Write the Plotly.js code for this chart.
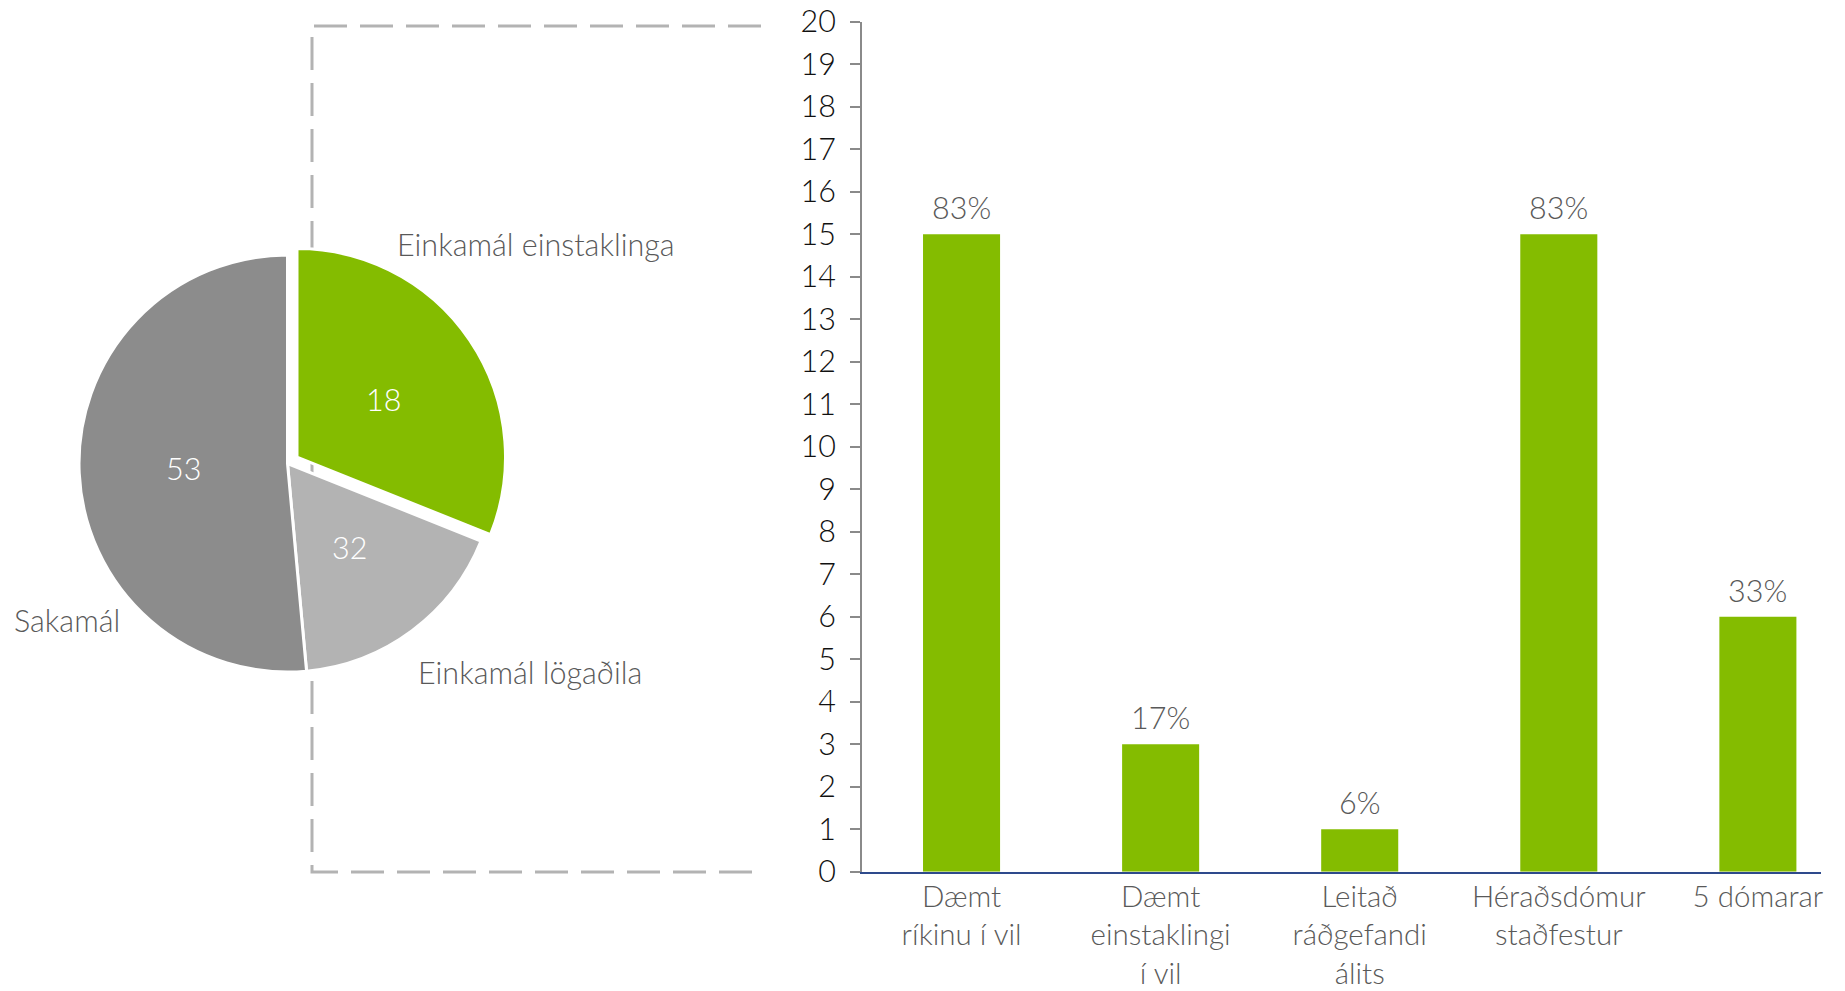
<!DOCTYPE html>
<html>
<head>
<meta charset="utf-8">
<script src="https://cdn.plot.ly/plotly-3.0.1.min.js"></script>
<style>html,body{margin:0;padding:0;background:#fff;}#chart{width:1845px;height:991px;}</style>
</head>
<body>
<div id="chart"></div>
<script>
// ---- Pie data ----
const pieNames = ["Einkamál einstaklinga", "Einkamál lögaðila", "Sakamál"];
const pieSliceValues = [32, 18, 53];          // slice sizes as drawn
const pieSliceLabels = ["18", "32", "53"];    // numbers printed on the slices
const pieColors = ["#84bc00", "#b3b3b3", "#8c8c8c"];

// ---- Bar data ----
const barCategories = ["Dæmt<br>ríkinu í vil", "Dæmt<br>einstaklingi<br>í vil", "Leitað<br>ráðgefandi<br>álits", "Héraðsdómur<br>staðfestur", "5 dómarar"];
const barValues = [15, 3, 1, 15, 6];
const barLabels = ["83%", "17%", "6%", "83%", "33%"];

const W = 1845, H = 991;
const px = x => x / W;
const py = y => 1 - y / H;
const FONT = "Lato, 'Open Sans', sans-serif";
const WEIGHT = 300;
const FS = 30.5;
const GREY_TXT = "#595959";

// pie geometry (layout)
const pieCx = 287.5, pieCy = 463.5, pieR = 208.5, pull = 0.055;
const half = pieR * (1 + pull);
const pulls = [pull, 0, 0];

const pie = {
  type: "pie",
  values: pieSliceValues,
  labels: pieNames,
  textinfo: "none",
  marker: {colors: pieColors, line: {color: "#ffffff", width: 3}},
  pull: pulls,
  sort: false,
  direction: "clockwise",
  rotation: 0,
  hoverinfo: "none",
  domain: {x: [px(pieCx - half), px(pieCx + half)], y: [py(pieCy + half), py(pieCy - half)]}
};

// slice value labels placed half-way out along each slice bisector
const total = pieSliceValues.reduce((a, b) => a + b, 0);
const sliceAnn = [];
let acc = 0;
pieSliceValues.forEach((v, i) => {
  const mid = (acc + v / 2) / total * 2 * Math.PI;
  acc += v;
  const rr = pieR * (0.5 + pulls[i]);
  const x = pieCx + rr * Math.sin(mid);
  const y = pieCy - rr * Math.cos(mid);
  sliceAnn.push({text: pieSliceLabels[i], xref: "paper", yref: "paper", x: px(x), y: py(y),
    xanchor: "center", yanchor: "middle", showarrow: false,
    font: {family: FONT, size: FS, color: "#ffffff", weight: WEIGHT}});
});

const bar = {
  type: "bar",
  x: barCategories,
  y: barValues,
  marker: {color: "#84bc00"},
  hoverinfo: "none"
};

const barAnn = barCategories.map((c, i) => ({
  text: barLabels[i], x: c, y: barValues[i], xref: "x", yref: "y",
  xanchor: "center", yanchor: "middle", yshift: 27, showarrow: false,
  font: {family: FONT, size: FS, color: GREY_TXT, weight: WEIGHT}
}));

const labelFont = {family: FONT, size: FS, color: GREY_TXT, weight: WEIGHT};

const layout = {
  width: W, height: H,
  margin: {l: 0, r: 0, t: 0, b: 0},
  paper_bgcolor: "#ffffff",
  plot_bgcolor: "rgba(0,0,0,0)",
  showlegend: false,
  bargap: 0.613,
  font: {family: FONT, color: GREY_TXT, weight: WEIGHT},
  xaxis: {
    domain: [px(862), px(1821)],
    range: [-0.5, 4.317],
    showgrid: false, zeroline: false,
    showline: true, linecolor: "#2e4a8c", linewidth: 2,
    ticks: "",
    ticklabelstandoff: -2,
    tickfont: {family: FONT, size: 29.5, color: GREY_TXT, weight: WEIGHT},
    fixedrange: true
  },
  yaxis: {
    domain: [py(871.7), py(21.7)],
    range: [0, 20],
    dtick: 1, tick0: 0,
    showgrid: false, zeroline: false,
    showline: true, linecolor: "#8a8a8a", linewidth: 2,
    ticks: "outside", ticklen: 10, tickwidth: 2, tickcolor: "#8a8a8a",
    ticklabelstandoff: 8,
    tickfont: {family: FONT, size: FS, color: "#111111", weight: WEIGHT},
    fixedrange: true
  },
  shapes: [{
    type: "path", xref: "paper", yref: "paper", layer: "below",
    path: `M ${px(761)},${py(26)} L ${px(312)},${py(26)} L ${px(312)},${py(872)} L ${px(762)},${py(872)}`,
    line: {color: "#b3b3b3", width: 3, dash: "33px,13px"}
  }],
  annotations: [
    {text: pieNames[0], xref: "paper", yref: "paper", x: px(395), y: py(243.6), xanchor: "left", yanchor: "middle", showarrow: false, font: labelFont},
    {text: pieNames[1], xref: "paper", yref: "paper", x: px(416), y: py(672), xanchor: "left", yanchor: "middle", showarrow: false, font: labelFont},
    {text: pieNames[2], xref: "paper", yref: "paper", x: px(12), y: py(620), xanchor: "left", yanchor: "middle", showarrow: false, font: labelFont}
  ].concat(sliceAnn, barAnn)
};

Plotly.newPlot("chart", [pie, bar], layout, {displayModeBar: false, staticPlot: true});
</script>
</body>
</html>
